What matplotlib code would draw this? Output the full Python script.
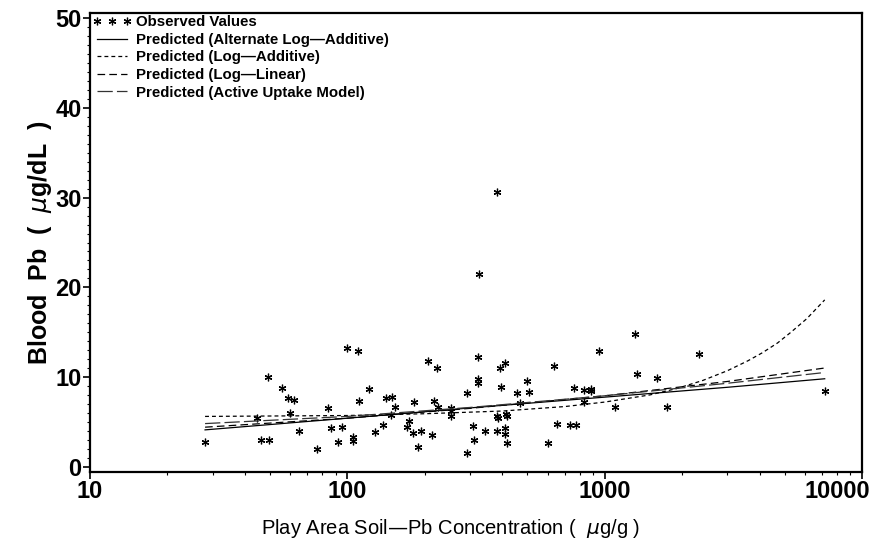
import matplotlib

matplotlib.use("Agg")
import matplotlib.pyplot as plt
import matplotlib.transforms as mtransforms
import numpy as np
from matplotlib.ticker import FixedLocator, NullFormatter

plt.rcParams["font.family"] = ["Liberation Sans", "DejaVu Sans"]
plt.rcParams["mathtext.fontset"] = "dejavusans"
plt.rcParams["lines.scale_dashes"] = False

# observed children: play-area soil Pb (ug/g) vs blood Pb (ug/dL)
soil_pb = [28, 49.3, 55.6, 58.7, 62.1, 60.1, 44.6, 46.2, 49.5, 64.7,
           76.0, 83.8, 86.7, 95.6, 91.8, 99.7, 110, 105, 105, 121.8,
           111, 127.8, 137.6, 141, 148.8, 152.8, 147.9, 170.6, 173.2, 181.6,
           180.6, 193.3, 188.8, 205.3, 222.4, 217.3, 224.5, 213.9, 252, 252,
           252, 291, 308, 310, 292, 321, 323, 323, 344, 380,
           380, 386, 391, 410, 397, 409, 409, 419, 415, 419,
           455, 510, 501, 469, 651, 604, 634, 758, 832, 887,
           887, 834, 734, 772, 949, 1097, 1316, 1331, 1600, 1753,
           2328, 7163, 380, 325]
blood_pb = [2.8, 10.0, 8.8, 7.6, 7.4, 6.0, 5.4, 3.0, 3.0, 4.0,
            2.0, 6.5, 4.3, 4.4, 2.7, 13.2, 12.9, 3.3, 2.9, 8.7,
            7.3, 3.9, 4.6, 7.7, 7.8, 6.7, 5.8, 4.4, 5.1, 7.2,
            3.7, 4.0, 2.2, 11.8, 11.0, 7.3, 6.7, 3.5, 6.5, 6.2,
            5.7, 8.2, 4.5, 3.0, 1.5, 12.2, 9.8, 9.3, 4.0, 4.0,
            5.6, 5.4, 11.0, 11.6, 8.9, 4.3, 3.6, 2.6, 5.9, 5.7,
            8.2, 8.3, 9.6, 7.1, 4.7, 2.6, 11.2, 8.8, 8.6, 8.7,
            8.4, 7.2, 4.6, 4.6, 12.9, 6.6, 14.8, 10.3, 9.9, 6.6,
            12.6, 8.4, 30.6, 21.5]

# fitted model curves
fit_soil = [28, 100, 300, 1000, 3000, 7163]
alt_log_add = [4.1, 5.4, 6.55, 7.75, 8.85, 9.8]
log_lin = [4.4, 5.4, 6.5, 7.9, 9.5, 11.0]
active_uptake = [4.8, 5.6, 6.6, 7.9, 9.3, 10.5]

log_add_soil = [28, 100, 200, 400, 700, 1000, 1500, 1900, 2400, 3000,
                3600, 4100, 4700, 5300, 6100, 7163]
log_add = [5.6, 5.7, 5.9, 6.2, 6.7, 7.2, 8.0, 8.7, 9.6, 10.7,
           11.8, 12.7, 13.8, 15.0, 16.5, 18.6]

fig = plt.figure(figsize=(8.73, 5.43), dpi=100)
ax = fig.add_axes([90 / 873, 71 / 543, 772 / 873, 459 / 543])

ax.plot(soil_pb, blood_pb, ls="none", marker=(6, 2, 0), ms=5.5, mew=0.9,
        color="black", label="Observed Values")
ax.plot(fit_soil, alt_log_add, color="black", lw=0.9,
        label="Predicted (Alternate Log\u2014Additive)")
ax.plot(log_add_soil, log_add, color="black", lw=0.9, dashes=(2.8, 2.2),
        label="Predicted (Log\u2014Additive)")
ax.plot(fit_soil, log_lin, color="black", lw=0.9, dashes=(5.5, 3.0),
        label="Predicted (Log\u2014Linear)")
ax.plot(fit_soil, active_uptake, color="#333333", lw=0.9, dashes=(11, 3),
        label="Predicted (Active Uptake Model)")

ax.set_xscale("log")
ax.set_xlim(10, 10000)
ax.set_ylim(-0.6, 50.6)

ax.xaxis.set_major_locator(FixedLocator([10, 100, 1000, 10000]))
ax.xaxis.set_minor_locator(FixedLocator([m * d for d in (10, 100, 1000) for m in range(2, 10)]))
ax.xaxis.set_minor_formatter(NullFormatter())
ax.set_xticklabels(["10", "100", "1000", "10000"])
ax.set_yticks(np.arange(0, 51, 10))
ax.set_yticks(np.arange(0, 51, 1), minor=True)

ax.tick_params(which="major", direction="out", length=5, width=1.2,
               labelsize=17, pad=1)
ax.tick_params(which="minor", direction="out", length=2.5, width=0.8)
for lab in ax.get_xticklabels() + ax.get_yticklabels():
    lab.set_fontweight("bold")

# keep the last x label inside the figure
last = ax.get_xticklabels()[-1]
last.set_horizontalalignment("right")
last.set_transform(last.get_transform() +
                   mtransforms.ScaledTranslation(8 / 100, 0, fig.dpi_scale_trans))

for sp in ax.spines.values():
    sp.set_linewidth(1.6)

ax.set_ylabel("Blood  Pb  (  $\\mu$g/dL  )", fontsize=18, fontweight="bold", labelpad=1)
fig.text(451 / 873, 1 - 528 / 543, "Play Area Soil\u2014Pb Concentration (  $\\mu$g/g )",
         fontsize=14.5, ha="center", va="center")

leg = ax.legend(loc="upper left", frameon=False, numpoints=3,
                prop={"size": 10.8, "weight": "bold"},
                handlelength=2.6, handletextpad=0.3, labelspacing=0.24,
                borderaxespad=0.0, borderpad=0.15)

fig.savefig("out.png", dpi=100)
